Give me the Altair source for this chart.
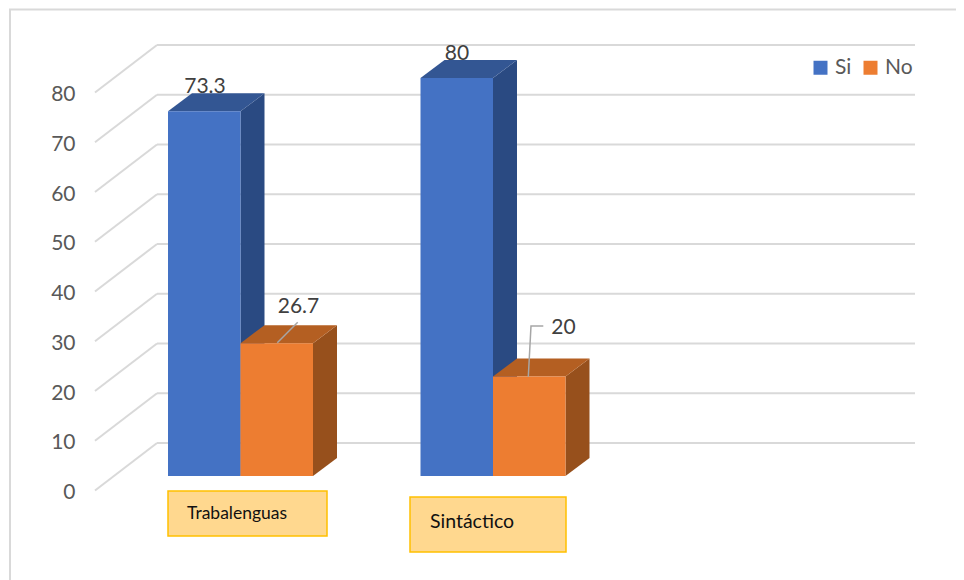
import altair as alt
import pandas as pd

categories = ["Trabalenguas", "Sintáctico"]
series = ["Si", "No"]
si_values = [73.3, 80]
no_values = [26.7, 20]
ticks = [0, 10, 20, 30, 40, 50, 60, 70, 80]

FONT = "Lato"
TEXT = "#595959"
GRID = "#d9d9d9"
W, H = 948, 572
PXU = 252.5      # pixels per category slot
PXA = 4.975      # pixels per value unit


def u(px):       # page x -> x scale
    return (px - 168) / PXU


def a(py):       # page y -> y scale
    return (490.5 - py) / PXA


BASE = a(476)
BAR = 72.5 / PXU
DX = 24 / PXU
DY = 18 / PXA
WALL_DX = 62 / PXU
WALL_DY = 47.5 / PXA
x_scale = alt.Scale(domain=[u(8), u(8 + W)], nice=False, zero=False)
y_scale = alt.Scale(domain=[a(8 + H), a(8)], nice=False, zero=False)

y_axis = alt.Axis(
    values=ticks,
    title=None,
    domain=False,
    ticks=False,
    grid=False,
    offset=-70,
    labelPadding=3,
    labelOffset=2,
    labelFont=FONT,
    labelFontSize=21,
    labelColor=TEXT,
    labelAlign="right",
    labelOverlap=False,
)
X = alt.X("x:Q", scale=x_scale, axis=None)
Y = alt.Y("y:Q", scale=y_scale, axis=y_axis)

fronts, faces = [], []
side_col = {"Si": "#2a4a82", "No": "#97501c"}
top_col = {"Si": "#335693", "No": "#b45f22"}
for si, name, vals in ((0, "Si", si_values), (1, "No", no_values)):
    for ci, v in enumerate(vals):
        x0 = ci + si * BAR
        x1 = x0 + BAR
        y1 = BASE + v
        fronts.append(dict(x=x0, x2=x1, y=BASE, y2=y1, serie=name))
        for x, lo, hi in ((x1, BASE, y1), (x1 + DX, BASE + DY, y1 + DY)):
            faces.append(dict(x=x, y=lo, y2=hi, col=side_col[name], face=f"s{si}{ci}"))
        for x, lo, hi in (
            (x0, y1, y1),
            (x0 + DX, y1, y1 + DY),
            (x1, y1, y1 + DY),
            (x1 + DX, y1 + DY, y1 + DY),
        ):
            faces.append(dict(x=x, y=lo, y2=hi, col=top_col[name], face=f"t{si}{ci}"))

grid_wall = (
    alt.Chart(pd.DataFrame({"t": ticks}))
    .transform_calculate(y=f"datum.t + {WALL_DY}", x=f"{u(157)}", x2=f"{u(915)}")
    .mark_rule(color=GRID, strokeWidth=2)
    .encode(x=X, x2="x2:Q", y=Y)
)

side_rows = []
for t in ticks:
    side_rows.append(dict(x=u(95), y=t, t=t))
    side_rows.append(dict(x=u(157), y=t + WALL_DY, t=t))
grid_side = (
    alt.Chart(pd.DataFrame(side_rows))
    .mark_line(color=GRID, strokeWidth=2)
    .encode(x=X, y=Y, detail="t:N")
)

face_layer = (
    alt.Chart(pd.DataFrame(faces))
    .mark_area()
    .encode(
        x=X,
        y=Y,
        y2="y2:Q",
        color=alt.Color("col:N", scale=None),
        detail="face:N",
    )
)

front_layer = (
    alt.Chart(pd.DataFrame(fronts))
    .mark_rect()
    .encode(
        x=X,
        x2="x2:Q",
        y=Y,
        y2="y2:Q",
        color=alt.Color(
            "serie:N",
            scale=alt.Scale(domain=series, range=["#4472c4", "#ed7d31"]),
            legend=alt.Legend(
                title=None,
                orient="none",
                legendX=802,
                legendY=49,
                direction="horizontal",
                symbolType="square",
                symbolSize=196,
                symbolStrokeWidth=0,
                labelFont=FONT,
                labelFontSize=21,
                labelColor=TEXT,
                columnPadding=8,
            ),
        ),
    )
)

leader_rows = [
    dict(x=u(277.3), y=a(342.7), k="a", o=0),
    dict(x=u(297.7), y=a(322.3), k="a", o=1),
    dict(x=u(528.3), y=a(376.7), k="b", o=0),
    dict(x=u(531), y=a(326), k="b", o=1),
    dict(x=u(543.3), y=a(326), k="b", o=2),
]
leaders = (
    alt.Chart(pd.DataFrame(leader_rows))
    .mark_line(color="#a6a6a6", strokeWidth=1.5)
    .encode(x=X, y=Y, detail="k:N", order="o:Q")
)

label_rows = [
    dict(x=u(205), y=a(87), text=str(si_values[0])),
    dict(x=u(457), y=a(53.5), text=str(si_values[1])),
    dict(x=u(298.5), y=a(306.5), text=str(no_values[0])),
    dict(x=u(563.5), y=a(327.5), text=str(no_values[1])),
]
value_labels = (
    alt.Chart(pd.DataFrame(label_rows))
    .mark_text(font=FONT, fontSize=21, color="#404040", baseline="middle", align="center")
    .encode(x=X, y=Y, text="text:N")
)

box_rows = [
    dict(x=u(168), x2=u(327), y=a(536), y2=a(491), tx=u(187), ty=a(514), fs=17.5, text=categories[0]),
    dict(x=u(410), x2=u(566), y=a(552), y2=a(497), tx=u(430), ty=a(522), fs=19.5, text=categories[1]),
]
boxes = (
    alt.Chart(pd.DataFrame(box_rows))
    .mark_rect(fill="#ffd88f", stroke="#ffc000", strokeWidth=1.5)
    .encode(x=X, x2="x2:Q", y=Y, y2="y2:Q")
)
box_text = [
    alt.Chart(pd.DataFrame([r]))
    .mark_text(font=FONT, fontSize=r["fs"], color="#111111", align="left", baseline="middle")
    .encode(
        x=alt.X("tx:Q", scale=x_scale, axis=None),
        y=alt.Y("ty:Q", scale=y_scale, axis=y_axis),
        text="text:N",
    )
    for r in box_rows
]

frame_top = (
    alt.Chart(pd.DataFrame({"k": [0]}))
    .mark_rule(color=GRID, strokeWidth=2)
    .encode(x=alt.value(1), x2=alt.value(W), y=alt.value(1.5))
)
frame_left = (
    alt.Chart(pd.DataFrame({"k": [0]}))
    .mark_rule(color=GRID, strokeWidth=2)
    .encode(x=alt.value(2), y=alt.value(1), y2=alt.value(H))
)

chart = (
    alt.layer(
        frame_top,
        frame_left,
        grid_wall,
        grid_side,
        face_layer,
        front_layer,
        leaders,
        value_labels,
        boxes,
        *box_text,
    )
    .resolve_scale(color="independent")
    .properties(width=W, height=H, padding=0, autosize=alt.AutoSizeParams(type="none"), background="white")
    .configure_view(stroke=None)
)

chart.save("out.html", embed_options={"renderer": "svg", "actions": False})
